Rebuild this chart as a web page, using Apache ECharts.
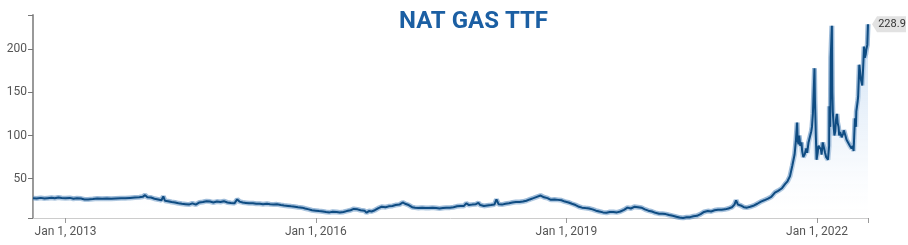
<!DOCTYPE html>
<html>
<head>
<meta charset="utf-8">
<script src="https://cdn.jsdelivr.net/npm/echarts@6/dist/echarts.min.js"></script>
<style>
html,body{margin:0;padding:0;background:#fff;}
#chart{width:908px;height:245px;}
</style>
</head>
<body>
<div id="chart"></div>
<script>
var titleText = 'NAT GAS TTF';
var dates = [
'2012-08-12','2012-08-28','2012-09-15','2012-10-01','2012-10-15','2012-11-01','2012-11-15','2012-12-01','2012-12-15',
'2013-01-01','2013-01-20','2013-02-05','2013-02-20','2013-03-10','2013-03-25','2013-04-10','2013-05-01','2013-05-20','2013-06-10','2013-07-01','2013-07-20','2013-08-10','2013-09-01','2013-09-20','2013-10-10','2013-11-01','2013-11-20','2013-12-05','2013-12-15','2013-12-25',
'2014-01-10','2014-01-25','2014-02-10','2014-02-25','2014-03-05','2014-03-12','2014-03-25','2014-04-10','2014-04-25','2014-05-10','2014-05-25','2014-06-10','2014-06-25','2014-07-10','2014-07-25','2014-08-10','2014-08-25','2014-09-10','2014-09-25','2014-10-10','2014-10-25','2014-11-10','2014-11-25','2014-12-10','2014-12-25',
'2015-01-10','2015-01-22','2015-02-01','2015-02-15','2015-03-01','2015-03-15','2015-04-01','2015-04-15','2015-05-01','2015-05-15','2015-06-01','2015-06-15','2015-07-01','2015-07-15','2015-08-01','2015-08-15','2015-09-01','2015-09-15','2015-10-01','2015-10-15','2015-11-01','2015-11-15','2015-12-01','2015-12-15',
'2016-01-01','2016-01-15','2016-02-01','2016-02-15','2016-03-01','2016-03-15','2016-04-01','2016-04-15','2016-05-01','2016-05-15','2016-06-01','2016-06-15','2016-07-01','2016-07-15','2016-08-01','2016-08-10','2016-08-20','2016-09-01','2016-09-15','2016-10-01','2016-10-15','2016-11-01','2016-11-15','2016-12-01','2016-12-15',
'2017-01-01','2017-01-15','2017-01-25','2017-02-10','2017-02-25','2017-03-10','2017-03-25','2017-04-10','2017-04-25','2017-05-10','2017-05-25','2017-06-10','2017-06-25','2017-07-10','2017-07-25','2017-08-10','2017-08-25','2017-09-10','2017-09-25','2017-10-10','2017-10-20','2017-11-01','2017-11-15','2017-12-01','2017-12-12','2017-12-20',
'2018-01-05','2018-01-20','2018-02-05','2018-02-20','2018-03-01','2018-03-10','2018-03-25','2018-04-10','2018-04-25','2018-05-10','2018-05-25','2018-06-10','2018-06-25','2018-07-10','2018-07-25','2018-08-10','2018-08-25','2018-09-10','2018-09-25','2018-10-10','2018-10-25','2018-11-10','2018-11-25','2018-12-10','2018-12-25',
'2019-01-10','2019-01-25','2019-02-10','2019-02-25','2019-03-10','2019-03-25','2019-04-10','2019-04-25','2019-05-10','2019-05-25','2019-06-10','2019-06-25','2019-07-10','2019-07-25','2019-08-10','2019-08-25','2019-09-10','2019-09-25','2019-10-10','2019-10-25','2019-11-10','2019-11-25','2019-12-10','2019-12-25',
'2020-01-10','2020-01-25','2020-02-10','2020-02-25','2020-03-10','2020-03-25','2020-04-10','2020-04-25','2020-05-10','2020-05-25','2020-06-10','2020-06-25','2020-07-10','2020-07-25','2020-08-10','2020-08-25','2020-09-10','2020-09-25','2020-10-10','2020-10-25','2020-11-10','2020-11-25','2020-12-10','2020-12-25',
'2021-01-05','2021-01-12','2021-01-20','2021-02-01','2021-02-15','2021-03-01','2021-03-15','2021-04-01','2021-04-15','2021-05-01','2021-05-15','2021-06-01','2021-06-15','2021-07-01','2021-07-15','2021-08-01','2021-08-15','2021-08-25','2021-09-05','2021-09-15','2021-09-25',
'2021-10-01','2021-10-06','2021-10-08','2021-10-12','2021-10-15','2021-10-20','2021-10-25','2021-10-28','2021-11-02','2021-11-08','2021-11-15','2021-11-19','2021-11-25','2021-12-01','2021-12-07','2021-12-10','2021-12-14','2021-12-16','2021-12-21','2021-12-23','2021-12-27','2021-12-30',
'2022-01-04','2022-01-07','2022-01-12','2022-01-18','2022-01-21','2022-01-26','2022-02-01','2022-02-05','2022-02-10','2022-02-15','2022-02-18','2022-02-23','2022-02-24','2022-02-28','2022-03-02','2022-03-07','2022-03-09','2022-03-11','2022-03-15','2022-03-18','2022-03-22','2022-03-25','2022-03-29',
'2022-04-01','2022-04-05','2022-04-08','2022-04-12','2022-04-19','2022-04-25','2022-04-28','2022-05-05','2022-05-10','2022-05-17','2022-05-25','2022-06-01','2022-06-06','2022-06-10','2022-06-14','2022-06-16','2022-06-20','2022-06-22','2022-06-28','2022-06-30',
'2022-07-05','2022-07-08','2022-07-12','2022-07-18','2022-07-22','2022-07-26','2022-07-29','2022-08-02','2022-08-05','2022-08-09','2022-08-12'
];
var prices = [
27.5,27,27.8,27,27.5,28,27.3,28.2,27.6,
27.5,27.8,26.8,27.3,27.0,26.0,26.0,26.4,27.0,26.8,27.0,26.8,27.2,27.5,27.3,27.8,28.2,28.5,29.0,31.0,28.5,
28.2,26.8,26.0,25.0,29.5,24.5,24.0,23.0,22.5,21.5,21.0,20.5,20.0,21.5,20.0,22.5,23.0,24.0,23.5,22.5,23.5,23.0,24.0,22.5,22.0,
21.5,26.0,23.5,22.5,22.0,21.5,21.5,21.0,21.0,20.5,21.0,20.5,20.0,20.3,19.5,19.0,18.5,18.0,17.5,17.0,16.5,15.5,14.5,13.5,
13.0,12.5,12.0,11.5,11.0,11.8,11.5,11.0,11.5,12.5,13.5,15.0,14.5,13.5,13.0,10.5,12.5,12.0,13.5,16.0,17.5,17.0,18.0,18.5,19.5,
20.0,22.5,21.0,19.5,17.0,16.5,16.0,16.5,16.0,16.0,16.5,16.0,15.5,16.0,16.5,16.5,17.0,18.0,18.5,18.5,21.5,19.5,20.0,20.5,22.0,19.5,
18.5,19.0,19.5,20.0,26.0,20.5,20.0,21.0,21.5,22.5,23.0,23.0,23.5,24.5,26.0,27.5,29.0,30.5,28.5,27.5,25.5,26.0,25.5,25.0,23.5,
22.5,21.0,19.5,17.5,16.5,16.0,15.5,14.5,13.0,12.0,11.0,10.5,11.5,11.5,11.0,12.0,14.0,16.5,15.5,17.5,17.0,16.5,14.5,13.0,
12.0,10.5,9.5,9.5,9.0,8.0,7.0,6.0,5.0,4.5,5.5,5.5,6.5,7.0,9.0,11.5,12.5,12.0,13.5,14.0,14.0,14.5,15.5,17.0,
20,25,20,19,17,16.5,17.5,19,21,23.5,25,27,29,34,36,39,44,47,53,65,78,
95,115,95,90,100,88,92,82,75,78,85,80,92,93,105,110,125,140,178,140,98,72,
80,88,90,84,78,92,85,80,75,76,72,88,134,110,190,227,150,128,110,100,105,118,125,
115,110,100,104,98,102,106,100,95,97,88,85,88,82,80,120,110,128,140,145,
182,175,165,158,180,203,190,194,200,205,228.9
];
var yTicks = [50, 100, 150, 200];
var yearTicks = [2013, 2016, 2019, 2022];
var xStart = '2012-08-12';
var xEnd = '2022-08-12';

function ts(s) { var p = s.split('-'); return Date.UTC(+p[0], +p[1] - 1, +p[2]); }

var chart = echarts.init(document.getElementById('chart'));
var seriesData = dates.map(function (d, i) { return [ts(d), prices[i]]; });
var lastIdx = prices.length - 1;
var yearStamps = yearTicks.map(function (y) { return Date.UTC(y, 0, 1); });
var startStamp = ts(xStart), endStamp = ts(xEnd);
var font = 'Roboto, "Noto Sans", sans-serif';

chart.setOption({
  animation: false,
  title: {
    text: titleText,
    left: 394, top: 5,
    textStyle: { color: '#1b5fa3', fontSize: 24, fontWeight: 'bold', fontFamily: font }
  },
  grid: { left: 33, right: 40, top: 15, bottom: 27, containLabel: false },
  xAxis: {
    type: 'value',
    min: startStamp, max: endStamp,
    axisLine: { show: true, onZero: false, lineStyle: { color: '#cccccc', width: 1 } },
    axisTick: { show: true, length: 5, lineStyle: { color: '#999999' },
      customValues: yearStamps.concat([endStamp]) },
    axisLabel: {
      customValues: yearStamps,
      color: '#555555', fontSize: 12, fontFamily: font, margin: 8,
      formatter: function (v) { return 'Jan 1, ' + new Date(v).getUTCFullYear(); }
    },
    splitLine: { show: false }
  },
  yAxis: {
    type: 'value',
    min: 4.5, max: 239.6,
    axisLine: { show: true, onZero: false, lineStyle: { color: '#999999', width: 2 } },
    axisTick: { show: true, length: 5, lineStyle: { color: '#777777' },
      customValues: [4.5].concat(yTicks).concat([239.6]) },
    axisLabel: { customValues: yTicks, color: '#555555', fontSize: 12, fontFamily: font, margin: 6 },
    splitLine: { show: false }
  },
  series: [
    {
      type: 'line', silent: true, showSymbol: false, symbol: 'none',
      data: seriesData,
      lineStyle: { color: 'rgba(60,120,180,0.5)', width: 5 },
      z: 1
    },
    {
      type: 'line', showSymbol: false, symbol: 'none',
      data: seriesData,
      lineStyle: { color: '#0f4c82', width: 2 },
      areaStyle: {
        origin: 'start',
        color: new echarts.graphic.LinearGradient(0, 0, 0, 1, [
          { offset: 0, color: 'rgba(175,205,238,0.9)' },
          { offset: 0.6, color: 'rgba(220,233,247,0.6)' },
          { offset: 1, color: 'rgba(255,255,255,0.2)' }
        ])
      },
      z: 2,
      markPoint: {
        silent: true,
        symbol: 'path://M0,5 L5,0 L34,0 L34,10 L5,10 Z',
        symbolSize: [34, 16],
        symbolOffset: [21, 0],
        itemStyle: { color: '#e2e2e2' },
        label: {
          show: true, position: 'inside', offset: [3, 0],
          color: '#333333', fontSize: 11, fontFamily: font,
          formatter: function (p) { return p.value.toFixed(1); }
        },
        data: [{ coord: [seriesData[lastIdx][0], prices[lastIdx]], value: prices[lastIdx] }]
      }
    }
  ]
});
</script>
</body>
</html>
